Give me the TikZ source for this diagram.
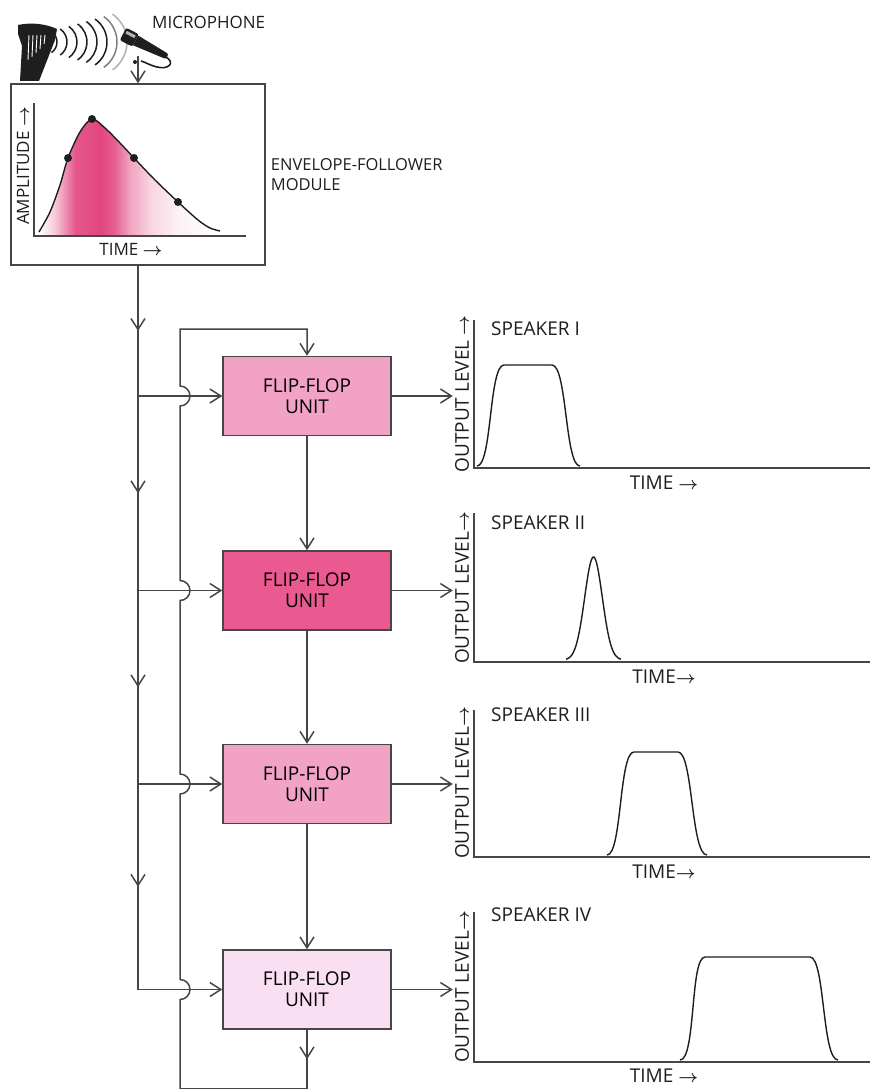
\documentclass[tikz,border=0pt]{standalone}
\usepackage{fontspec}
\setmainfont{Open Sans}
\usetikzlibrary{positioning,arrows.meta,calc,decorations.markings}

\definecolor{linegray}{RGB}{70,70,70}
\definecolor{inkgray}{RGB}{30,30,30}
\definecolor{ffpink}{RGB}{242,163,197}
\definecolor{ffhot}{RGB}{234,90,144}
\definecolor{fflight}{RGB}{250,222,242}
\definecolor{envpink}{RGB}{226,69,127}

\newcommand{\txtsize}{\fontsize{17}{20}\selectfont}
\newcommand{\bigsize}{\fontsize{19}{21}\selectfont}
\newcommand{\rarr}{{\boldmath$\rightarrow$}}

% pink wash under the envelope curve (25bp..75bp spans the curve)
\pgfdeclarehorizontalshading{envfill}{100bp}{color(0bp)=(white); color(25bp)=(white);
  color(29.5bp)=(envpink!30); color(35bp)=(envpink!90); color(42bp)=(envpink);
  color(46bp)=(envpink!85); color(50bp)=(envpink!50); color(56bp)=(envpink!22);
  color(63bp)=(envpink!8); color(75bp)=(white); color(100bp)=(white)}

\tikzset{
  wire/.style={draw=linegray, line width=1.5pt},
  fwd/.style={wire, -{Straight Barb[length=11pt, width=14pt]}},
  midarrow/.style={postaction={decorate}, decoration={markings,
      mark=at position 0.5 with {\arrow{Straight Barb[length=11pt, width=14pt]}}}},
  ffunit/.style={rectangle, draw=linegray, line width=1.5pt, minimum width=168pt,
                 minimum height=79pt, align=center, font=\bigsize, text=black},
  lbl/.style={text=inkgray, font=\txtsize, inner sep=2pt},
  chartlbl/.style={lbl, font=\bigsize},
  level/.style={chartlbl, rotate=90},
  pulse/.style={draw=inkgray, line width=1.4pt},
}

\begin{document}
\begin{tikzpicture}[x=1pt, y=-1pt]
  \path[use as bounding box, fill=white] (0,0) rectangle (870,1089);

  % harp, sound and microphone
  \fill[inkgray] (18,25) .. controls (32,22) and (46,24) .. (57,29) -- (55,40)
    -- (39,81) -- (20,81) -- (22,46) -- (18,34) -- cycle;
  \foreach \sx/\ex in {29/60, 33/57, 37/53, 41/49, 45/44}
    \draw[white, line width=0.9pt] (\sx,35) -- (\sx-1,\ex);
  \foreach \cx/\r/\c in {44/13/inkgray, 51/16/inkgray, 58/19/inkgray, 65/22/inkgray,
                         72/25/inkgray, 79/28/inkgray, 86/31/gray, 93/34/gray!60}
    \draw[\c, line width=1.5pt] (\cx,42) ++(-55:\r) arc[start angle=-55, end angle=55, radius=\r];
  \begin{scope}[shift={(123,34)}, rotate=-27]
    \fill[inkgray, rounded corners=2pt] (0,-7) rectangle (14,7);
    \fill[gray!60] (2,-4.5) rectangle (12,-1.5);
    \fill[inkgray] (14,-5.5) -- (48,-3) to[out=0, in=0] (48,3) -- (14,5.5) -- cycle;
  \end{scope}
  \draw[inkgray, line width=1.6pt] (166,57) .. controls (176,63) and (168,70) .. (157,67)
    .. controls (149,65) and (145,62) .. (141,61);
  \fill[inkgray] (135,62) circle (2);
  \node[lbl, anchor=west] (miclbl) at (150,22) {MICROPHONE};
  \coordinate (micout) at (138,56);

  % envelope follower
  \node[draw=linegray, line width=1.5pt, minimum width=254pt, minimum height=181pt] (env) at (138,174.5) {};
  \node[lbl, font=\fontsize{16.5}{20}\selectfont, right=3pt of env, align=left] (envlbl) {ENVELOPE-FOLLOWER\\MODULE};
  \shade[shading=envfill] plot[smooth] coordinates {(39,232) (50,212) (60,185) (68,158) (80,132)
    (92,119) (105,128) (120,143) (134,158) (155,180) (178,202) (198,220) (210,228) (220,231)}
    -- (220,236) -- (39,236) -- cycle;
  \draw[wire] (34,103) -- (34,236) -- (246,236);
  \draw[pulse] plot[smooth] coordinates {(39,232) (50,212) (60,185) (68,158) (80,132)
    (92,119) (105,128) (120,143) (134,158) (155,180) (178,202) (198,220) (210,228) (220,231)};
  \foreach \px/\py in {68/158, 92/119, 134/158, 178/202}
    \fill[inkgray] (\px,\py) circle (4);
  \node[lbl, rotate=90] (amp) at (23,166) {AMPLITUDE \rarr};
  \node[lbl] (envtime) at (131,249) {TIME \rarr};
  \draw[fwd] (micout) -- (env.north);

  % flip-flop chain
  \node[ffunit, fill=ffpink] (ff1) at (307,396) {FLIP-FLOP\\UNIT};
  \node[ffunit, fill=ffhot] (ff2) [below=114pt of ff1] {FLIP-FLOP\\UNIT};
  \node[ffunit, fill=ffpink] (ff3) [below=113pt of ff2] {FLIP-FLOP\\UNIT};
  \node[ffunit, fill=fflight] (ff4) [below=125pt of ff3] {FLIP-FLOP\\UNIT};

  \draw[fwd] (ff1.south) -- (ff2.north);
  \draw[fwd] (ff2.south) -- (ff3.north);
  \draw[fwd] (ff3.south) -- (ff4.north);

  % trigger line from the envelope follower
  \coordinate (b1) at (ff1.west -| env.south);
  \coordinate (b2) at (ff2.west -| env.south);
  \coordinate (b3) at (ff3.west -| env.south);
  \coordinate (b4) at (ff4.west -| env.south);
  \draw[wire, midarrow] (env.south) -- (b1);
  \draw[wire, midarrow] (b1) -- (b2);
  \draw[wire, midarrow] (b2) -- (b3);
  \draw[wire, midarrow] (b3) -- (b4);
  \draw[fwd] (b1) -- (ff1.west);
  \draw[fwd] (b2) -- (ff2.west);
  \draw[fwd] (b3) -- (ff3.west);
  \draw[fwd] (b4) -- (ff4.west);

  % feedback from the last unit back to the first, hopping the branches
  \coordinate (loopbot) at ($(ff4.south)+(0,59)$);
  \coordinate (fbx) at (180,329);
  \draw[wire, midarrow] (ff4.south) -- (loopbot);
  \draw[fwd] (loopbot) -| ($(ff4.west -| fbx)+(0,10)$)
    arc[start angle=90, end angle=-90, radius=10] -- ($(ff3.west -| fbx)+(0,10)$)
    arc[start angle=90, end angle=-90, radius=10] -- ($(ff2.west -| fbx)+(0,10)$)
    arc[start angle=90, end angle=-90, radius=10] -- ($(ff1.west -| fbx)+(0,10)$)
    arc[start angle=90, end angle=-90, radius=10] -- (fbx) -| (ff1.north);

  % speaker outputs
  \node[level] (lvl1) at (462,394) {OUTPUT LEVEL \rarr};
  \node[chartlbl, anchor=west] (spk1) at (489,329) {SPEAKER I};
  \node[chartlbl] (time1) at (664,483) {TIME \rarr};
  \draw[wire] (474,320) -- (474,468) -- (870,468);
  \draw[pulse] (477,466) .. controls (492,466) and (489,365) .. (504,365) -- (552,365)
    .. controls (567,365) and (565,466) .. (580,466);
  \draw[fwd] (ff1.east) -- (ff1.east -| lvl1.north);

  \node[level] (lvl2) at (462,588) {OUTPUT LEVEL\rarr};
  \node[chartlbl, anchor=west] (spk2) at (489,523) {SPEAKER II};
  \node[chartlbl] (time2) at (664,677) {TIME\rarr};
  \draw[wire] (474,513) -- (474,662) -- (870,662);
  \draw[pulse] plot[domain=566:621, samples=60, smooth] (\x, {660-103*exp(-((\x-593.5)/12.5)^2)});
  \draw[fwd] (ff2.east) -- (ff2.east -| lvl2.north);

  \node[level] (lvl3) at (462,783) {OUTPUT LEVEL\rarr};
  \node[chartlbl, anchor=west] (spk3) at (489,715) {SPEAKER III};
  \node[chartlbl] (time3) at (664,872) {TIME\rarr};
  \draw[wire] (474,710) -- (474,857) -- (870,857);
  \draw[pulse] (607,855) .. controls (622,855) and (619,752) .. (634,752) -- (678,752)
    .. controls (693,752) and (691,855) .. (707,855);
  \draw[fwd] (ff3.east) -- (ff3.east -| lvl3.north);

  \node[level] (lvl4) at (462,987) {OUTPUT LEVEL\rarr};
  \node[chartlbl, anchor=west] (spk4) at (489,915) {SPEAKER IV};
  \node[chartlbl] (time4) at (664,1076) {TIME \rarr};
  \draw[wire] (474,912) -- (474,1062) -- (870,1062);
  \draw[pulse] (680,1060) .. controls (696,1060) and (690,957) .. (705,957) -- (810,957)
    .. controls (825,957) and (822,1060) .. (838,1060);
  \draw[fwd] (ff4.east) -- (ff4.east -| lvl4.north);

\end{tikzpicture}
\end{document}
